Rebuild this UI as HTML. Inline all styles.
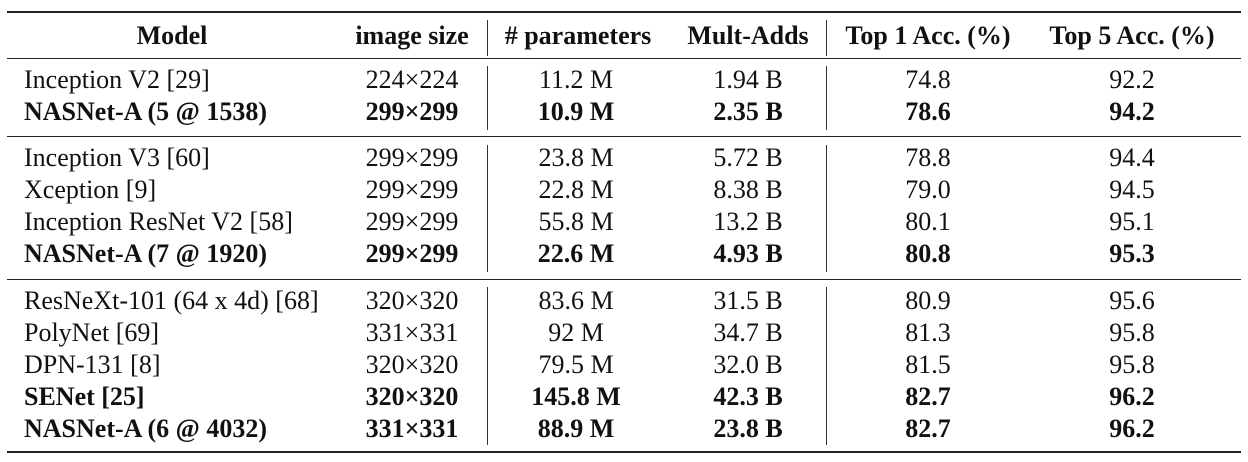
<!DOCTYPE html><html><head><style>
body{margin:0;width:1248px;height:462px;background:#fff;position:relative;overflow:hidden;font-family:"Liberation Serif",serif;font-size:26px;color:#111}
.c{position:absolute;transform:translate(-50%,-50%);white-space:nowrap}
.l{position:absolute;transform:translateY(-50%);white-space:nowrap;left:24px}
.b{font-weight:bold}
.h{position:absolute;left:7px;width:1234px;background:#222}
.v{position:absolute;width:1.3px;background:#333}
</style></head><body>
<div class="h" style="top:11px;height:2px"></div>
<div class="h" style="top:58px;height:1.3px"></div>
<div class="h" style="top:136px;height:1.3px"></div>
<div class="h" style="top:279px;height:1.3px"></div>
<div class="h" style="top:451px;height:2px"></div>
<div class="v" style="left:487px;top:20px;height:36px"></div>
<div class="v" style="left:826px;top:20px;height:36px"></div>
<div class="v" style="left:487px;top:66px;height:64px"></div>
<div class="v" style="left:826px;top:66px;height:64px"></div>
<div class="v" style="left:487px;top:145px;height:127px"></div>
<div class="v" style="left:826px;top:145px;height:127px"></div>
<div class="v" style="left:487px;top:287px;height:158px"></div>
<div class="v" style="left:826px;top:287px;height:158px"></div>
<div id="t"></div>
<script>
var rows=[
[36,1,"Model","image size","# parameters","Mult-Adds","Top 1 Acc. (%)","Top 5 Acc. (%)",true],
[80,0,"Inception V2 [29]","224×224","11.2 M","1.94 B","74.8","92.2"],
[112,1,"NASNet-A (5 @ 1538)","299×299","10.9 M","2.35 B","78.6","94.2"],
[158,0,"Inception V3 [60]","299×299","23.8 M","5.72 B","78.8","94.4"],
[190,0,"Xception [9]","299×299","22.8 M","8.38 B","79.0","94.5"],
[222,0,"Inception ResNet V2 [58]","299×299","55.8 M","13.2 B","80.1","95.1"],
[254,1,"NASNet-A (7 @ 1920)","299×299","22.6 M","4.93 B","80.8","95.3"],
[301,0,"ResNeXt-101 (64 x 4d) [68]","320×320","83.6 M","31.5 B","80.9","95.6"],
[333,0,"PolyNet [69]","331×331","92 M","34.7 B","81.3","95.8"],
[365,0,"DPN-131 [8]","320×320","79.5 M","32.0 B","81.5","95.8"],
[397,1,"SENet [25]","320×320","145.8 M","42.3 B","82.7","96.2"],
[429,1,"NASNet-A (6 @ 4032)","331×331","88.9 M","23.8 B","82.7","96.2"]];
var xs=[412,576,748,928,1132],h="";
rows.forEach(function(r){var b=r[1]?" b":"";
h+=r[8]?'<div class="c b" style="left:172px;top:'+r[0]+'px">'+r[2]+'</div>':'<div class="l'+b+'" style="top:'+r[0]+'px">'+r[2]+'</div>';
for(var i=0;i<5;i++)h+='<div class="c'+b+'" style="left:'+(r[8]&&i==1?578:xs[i])+'px;top:'+r[0]+'px">'+r[3+i]+'</div>';});
document.getElementById("t").innerHTML=h;
</script>
</body></html>
